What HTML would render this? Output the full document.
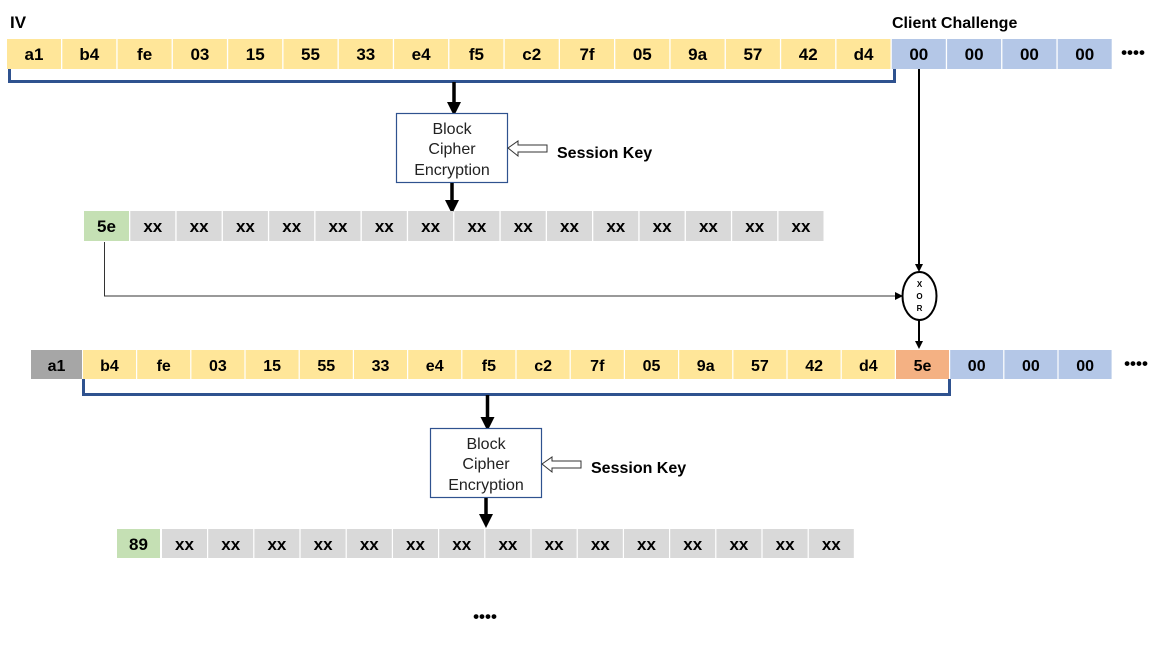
<!DOCTYPE html>
<html><head><meta charset="utf-8"><style>
body{margin:0;background:#fff}
svg{display:block}
.c{font-family:"Liberation Sans","DejaVu Sans",sans-serif;font-weight:bold;font-size:17px;text-anchor:middle;fill:#000}
.b{font-family:"Liberation Sans","DejaVu Sans",sans-serif;font-size:16px;text-anchor:middle;fill:#222}
.l{font-family:"Liberation Sans","DejaVu Sans",sans-serif;font-weight:bold;font-size:16px;fill:#000}
</style></head><body>
<svg width="1168" height="654" viewBox="0 0 1168 654" xmlns="http://www.w3.org/2000/svg">
<defs>
<marker id="ah" markerWidth="8" markerHeight="8" refX="6" refY="4" orient="auto" markerUnits="userSpaceOnUse"><path d="M0,0 L8,4 L0,8 z" fill="#000"/></marker>
<marker id="ab" markerWidth="14" markerHeight="14" refX="10" refY="7" orient="auto" markerUnits="userSpaceOnUse"><path d="M0,0 L14,7 L0,14 z" fill="#000"/></marker>
</defs>
<text class="l" x="10" y="28" style="font-size:17px">IV</text>
<text class="l" x="892" y="28">Client Challenge</text>
<!-- Row 1 -->
<g fill="#FFE699">
<rect x="7" y="39" width="54" height="30"/><rect x="62.3" y="39" width="54" height="30"/><rect x="117.6" y="39" width="54" height="30"/><rect x="172.9" y="39" width="54" height="30"/><rect x="228.2" y="39" width="54" height="30"/><rect x="283.5" y="39" width="54" height="30"/><rect x="338.8" y="39" width="54" height="30"/><rect x="394.1" y="39" width="54" height="30"/><rect x="449.4" y="39" width="54" height="30"/><rect x="504.7" y="39" width="54" height="30"/><rect x="560" y="39" width="54" height="30"/><rect x="615.3" y="39" width="54" height="30"/><rect x="670.6" y="39" width="54" height="30"/><rect x="725.9" y="39" width="54" height="30"/><rect x="781.2" y="39" width="54" height="30"/><rect x="836.5" y="39" width="54" height="30"/>
</g>
<g fill="#B4C7E7">
<rect x="891.8" y="39" width="54" height="30"/><rect x="947.1" y="39" width="54" height="30"/><rect x="1002.4" y="39" width="54" height="30"/><rect x="1057.7" y="39" width="54" height="30"/>
</g>
<g class="c">
<text x="34" y="60">a1</text><text x="89.3" y="60">b4</text><text x="144.6" y="60">fe</text><text x="199.9" y="60">03</text><text x="255.2" y="60">15</text><text x="310.5" y="60">55</text><text x="365.8" y="60">33</text><text x="421.1" y="60">e4</text><text x="476.4" y="60">f5</text><text x="531.7" y="60">c2</text><text x="587" y="60">7f</text><text x="642.3" y="60">05</text><text x="697.6" y="60">9a</text><text x="752.9" y="60">57</text><text x="808.2" y="60">42</text><text x="863.5" y="60">d4</text><text x="918.8" y="60">00</text><text x="974.1" y="60">00</text><text x="1029.4" y="60">00</text><text x="1084.7" y="60">00</text>
</g>
<text class="c" x="1133" y="58">••••</text>
<path d="M9.5,69 V81.5 H894.5 V69" fill="none" stroke="#2F528F" stroke-width="3"/>
<!-- block 1 -->
<line x1="454" y1="82" x2="454" y2="112" stroke="#000" stroke-width="3.5" marker-end="url(#ab)"/>
<rect x="396.5" y="113.5" width="111" height="69" fill="#fff" stroke="#2F528F" stroke-width="1.2"/>
<text class="b" x="452" y="134">Block</text><text class="b" x="452" y="154">Cipher</text><text class="b" x="452" y="175">Encryption</text>
<line x1="452" y1="183" x2="452" y2="210" stroke="#000" stroke-width="3.5" marker-end="url(#ab)"/>
<path d="M508,148 L518,141 V145 H547 V152 H518 V156 Z" fill="#fff" stroke="#333" stroke-width="1"/>
<text class="l" x="557" y="158">Session Key</text>
<!-- Row 2 -->
<rect x="84" y="211" width="45" height="30" fill="#C5E0B4"/>
<g fill="#D9D9D9">
<rect x="130.3" y="211" width="45" height="30"/><rect x="176.6" y="211" width="45" height="30"/><rect x="222.9" y="211" width="45" height="30"/><rect x="269.2" y="211" width="45" height="30"/><rect x="315.5" y="211" width="45" height="30"/><rect x="361.8" y="211" width="45" height="30"/><rect x="408.1" y="211" width="45" height="30"/><rect x="454.4" y="211" width="45" height="30"/><rect x="500.7" y="211" width="45" height="30"/><rect x="547" y="211" width="45" height="30"/><rect x="593.3" y="211" width="45" height="30"/><rect x="639.6" y="211" width="45" height="30"/><rect x="685.9" y="211" width="45" height="30"/><rect x="732.2" y="211" width="45" height="30"/><rect x="778.5" y="211" width="45" height="30"/>
</g>
<g class="c">
<text x="106.5" y="232">5e</text><text x="152.8" y="232">xx</text><text x="199.1" y="232">xx</text><text x="245.4" y="232">xx</text><text x="291.7" y="232">xx</text><text x="338" y="232">xx</text><text x="384.3" y="232">xx</text><text x="430.6" y="232">xx</text><text x="476.9" y="232">xx</text><text x="523.2" y="232">xx</text><text x="569.5" y="232">xx</text><text x="615.8" y="232">xx</text><text x="662.1" y="232">xx</text><text x="708.4" y="232">xx</text><text x="754.7" y="232">xx</text><text x="801" y="232">xx</text>
</g>
<!-- XOR -->
<line x1="919" y1="69" x2="919" y2="270" stroke="#000" stroke-width="2" marker-end="url(#ah)"/>
<path d="M104.5,242 V296 H901" fill="none" stroke="#333" stroke-width="1" marker-end="url(#ah)"/>
<ellipse cx="919.5" cy="296" rx="17" ry="24" fill="#fff" stroke="#000" stroke-width="2"/>
<g font-family="Liberation Sans, sans-serif" font-size="8" font-weight="bold" text-anchor="middle">
<text x="919.5" y="287">X</text><text x="919.5" y="299">O</text><text x="919.5" y="311">R</text></g>
<line x1="919" y1="320" x2="919" y2="347" stroke="#000" stroke-width="2" marker-end="url(#ah)"/>
<!-- Row 3 -->
<rect x="31" y="350" width="51" height="29" fill="#A6A6A6"/>
<g fill="#FFE699">
<rect x="83" y="350" width="53" height="29"/><rect x="137.2" y="350" width="53" height="29"/><rect x="191.4" y="350" width="53" height="29"/><rect x="245.6" y="350" width="53" height="29"/><rect x="299.8" y="350" width="53" height="29"/><rect x="354" y="350" width="53" height="29"/><rect x="408.2" y="350" width="53" height="29"/><rect x="462.4" y="350" width="53" height="29"/><rect x="516.6" y="350" width="53" height="29"/><rect x="570.8" y="350" width="53" height="29"/><rect x="625" y="350" width="53" height="29"/><rect x="679.2" y="350" width="53" height="29"/><rect x="733.4" y="350" width="53" height="29"/><rect x="787.6" y="350" width="53" height="29"/><rect x="841.8" y="350" width="53" height="29"/>
</g>
<rect x="896" y="350" width="53" height="29" fill="#F4B183"/>
<g fill="#B4C7E7"><rect x="950.2" y="350" width="53" height="29"/><rect x="1004.4" y="350" width="53" height="29"/><rect x="1058.6" y="350" width="53" height="29"/></g>
<g class="c" style="font-size:16px">
<text x="56.5" y="371">a1</text><text x="109.5" y="371">b4</text><text x="163.7" y="371">fe</text><text x="217.9" y="371">03</text><text x="272.1" y="371">15</text><text x="326.3" y="371">55</text><text x="380.5" y="371">33</text><text x="434.7" y="371">e4</text><text x="488.9" y="371">f5</text><text x="543.1" y="371">c2</text><text x="597.3" y="371">7f</text><text x="651.5" y="371">05</text><text x="705.7" y="371">9a</text><text x="759.9" y="371">57</text><text x="814.1" y="371">42</text><text x="868.3" y="371">d4</text><text x="922.5" y="371">5e</text><text x="976.7" y="371">00</text><text x="1030.9" y="371">00</text><text x="1085.1" y="371">00</text>
</g>
<text class="c" x="1136" y="369">••••</text>
<path d="M83.5,379 V394.5 H949.5 V379" fill="none" stroke="#2F528F" stroke-width="3"/>
<!-- block 2 -->
<line x1="487.5" y1="395" x2="487.5" y2="427" stroke="#000" stroke-width="3.5" marker-end="url(#ab)"/>
<rect x="430.5" y="428.5" width="111" height="69" fill="#fff" stroke="#2F528F" stroke-width="1.2"/>
<text class="b" x="486" y="449">Block</text><text class="b" x="486" y="469">Cipher</text><text class="b" x="486" y="490">Encryption</text>
<line x1="486" y1="498" x2="486" y2="524" stroke="#000" stroke-width="3.5" marker-end="url(#ab)"/>
<path d="M542,464 L552,457 V461 H581 V468 H552 V472 Z" fill="#fff" stroke="#333" stroke-width="1"/>
<text class="l" x="591" y="473">Session Key</text>
<!-- Row 4 -->
<rect x="117" y="529" width="43" height="29" fill="#C5E0B4"/>
<g fill="#D9D9D9">
<rect x="162" y="529" width="45" height="29"/><rect x="208.2" y="529" width="45" height="29"/><rect x="254.4" y="529" width="45" height="29"/><rect x="300.6" y="529" width="45" height="29"/><rect x="346.8" y="529" width="45" height="29"/><rect x="393" y="529" width="45" height="29"/><rect x="439.2" y="529" width="45" height="29"/><rect x="485.4" y="529" width="45" height="29"/><rect x="531.6" y="529" width="45" height="29"/><rect x="577.8" y="529" width="45" height="29"/><rect x="624" y="529" width="45" height="29"/><rect x="670.2" y="529" width="45" height="29"/><rect x="716.4" y="529" width="45" height="29"/><rect x="762.6" y="529" width="45" height="29"/><rect x="808.8" y="529" width="45" height="29"/>
</g>
<g class="c">
<text x="138.5" y="550">89</text><text x="184.5" y="550">xx</text><text x="230.7" y="550">xx</text><text x="276.9" y="550">xx</text><text x="323.1" y="550">xx</text><text x="369.3" y="550">xx</text><text x="415.5" y="550">xx</text><text x="461.7" y="550">xx</text><text x="507.9" y="550">xx</text><text x="554.1" y="550">xx</text><text x="600.3" y="550">xx</text><text x="646.5" y="550">xx</text><text x="692.7" y="550">xx</text><text x="738.9" y="550">xx</text><text x="785.1" y="550">xx</text><text x="831.3" y="550">xx</text>
</g>
<text class="c" x="485" y="622">••••</text>
</svg>
</body></html>
